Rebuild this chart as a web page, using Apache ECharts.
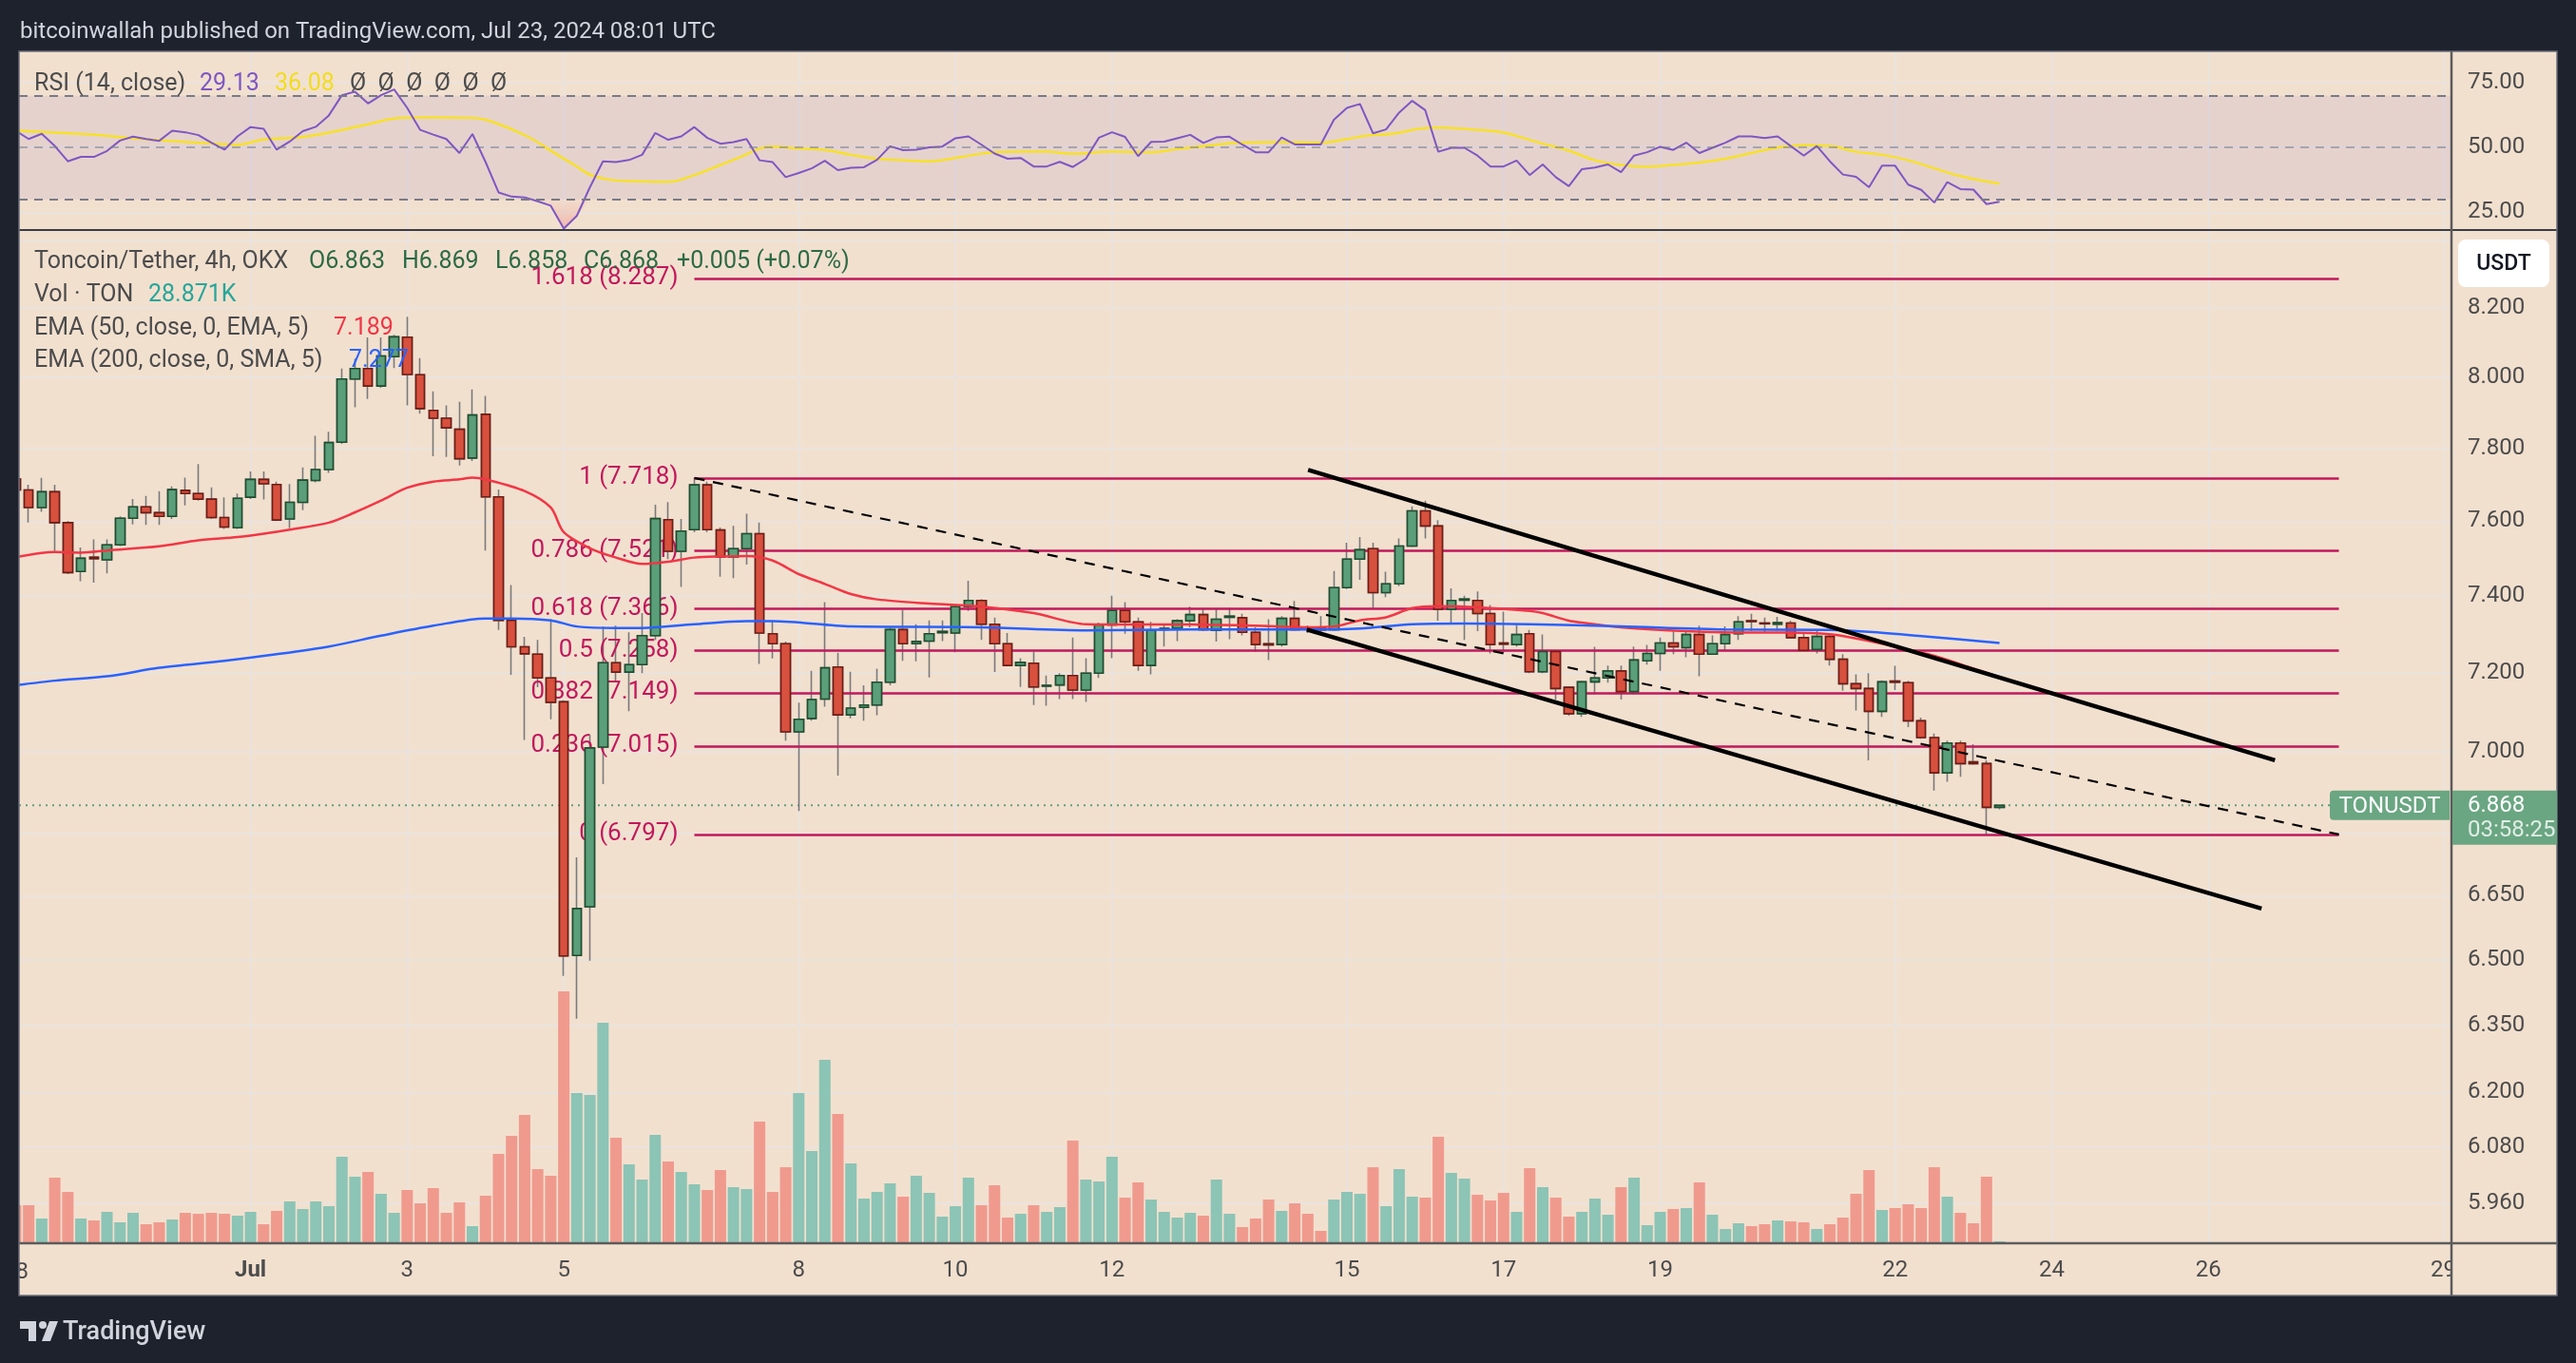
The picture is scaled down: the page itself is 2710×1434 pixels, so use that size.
<!DOCTYPE html>
<html><head><meta charset="utf-8">
<script src="https://cdn.jsdelivr.net/npm/echarts@6/dist/echarts.min.js"></script>
<style>html,body{margin:0;padding:0;background:#1e222d;}#c{width:2710px;height:1434px;}</style>
</head><body><div id="c"></div>
<script>
// ---- time base: hours relative to 2024-07-01 00:00 UTC, 4h candles ----
const START_HOUR = -72;   // first candle Jun 28 00:00
const STEP = 4;

const opens = [7.715,7.685,7.637,7.680,7.596,7.465,7.503,7.496,7.536,7.608,
 7.639,7.623,7.613,7.684,7.675,7.660,7.610,7.582,7.665,7.714,
 7.700,7.606,7.651,7.711,7.741,7.817,7.995,8.025,7.975,8.059,
 8.115,8.007,7.906,7.884,7.853,7.773,7.895,7.666,7.336,7.267,
 7.248,7.187,7.126,6.510,6.624,7.012,7.226,7.202,7.221,7.296,
 7.604,7.519,7.577,7.699,7.576,7.504,7.526,7.566,7.301,7.275,
 7.050,7.084,7.133,7.215,7.093,7.112,7.118,7.176,7.312,7.275,
 7.282,7.304,7.303,7.372,7.388,7.326,7.275,7.219,7.225,7.166,
 7.169,7.193,7.156,7.199,7.324,7.362,7.332,7.219,7.312,7.315,
 7.335,7.351,7.310,7.344,7.343,7.305,7.275,7.273,7.341,7.317,
 7.315,7.312,7.422,7.498,7.526,7.409,7.432,7.533,7.628,7.587,
 7.365,7.389,7.388,7.354,7.277,7.273,7.301,7.203,7.255,7.163,
 7.096,7.177,7.187,7.205,7.152,7.231,7.250,7.277,7.265,7.299,
 7.248,7.275,7.301,7.335,7.329,7.326,7.329,7.291,7.260,7.294,
 7.235,7.172,7.160,7.102,7.179,7.175,7.078,7.036,6.948,7.022,
 6.975,6.971,6.863];
const highs = [7.740,7.699,7.718,7.699,7.600,7.529,7.551,7.551,7.613,7.660,
 7.669,7.682,7.695,7.719,7.756,7.692,7.665,7.675,7.736,7.736,
 7.708,7.701,7.747,7.835,7.846,8.025,8.053,8.114,8.114,8.122,
 8.174,8.055,7.960,7.920,7.930,7.965,7.947,7.686,7.429,7.293,
 7.285,7.339,7.130,6.742,7.044,7.320,7.322,7.305,7.355,7.645,
 7.652,7.606,7.718,7.708,7.583,7.587,7.620,7.596,7.336,7.281,
 7.124,7.205,7.384,7.252,7.203,7.168,7.211,7.320,7.363,7.326,
 7.336,7.336,7.376,7.440,7.391,7.343,7.303,7.238,7.255,7.193,
 7.199,7.291,7.238,7.330,7.401,7.384,7.343,7.332,7.328,7.339,
 7.372,7.368,7.368,7.369,7.353,7.318,7.339,7.347,7.387,7.323,
 7.347,7.466,7.542,7.557,7.542,7.464,7.553,7.640,7.656,7.603,
 7.420,7.401,7.412,7.376,7.359,7.328,7.311,7.299,7.258,7.164,
 7.180,7.267,7.219,7.219,7.268,7.272,7.291,7.308,7.310,7.322,
 7.297,7.320,7.347,7.353,7.343,7.345,7.335,7.301,7.308,7.299,
 7.248,7.196,7.199,7.181,7.218,7.180,7.086,7.046,7.028,7.028,
 7.019,6.979,6.869];
const lows = [7.650,7.596,7.625,7.519,7.458,7.439,7.435,7.460,7.533,7.591,
 7.590,7.590,7.606,7.643,7.656,7.606,7.579,7.579,7.660,7.659,
 7.600,7.581,7.630,7.706,7.732,7.812,7.915,7.938,7.970,8.026,
 7.920,7.897,7.778,7.776,7.752,7.765,7.521,7.311,7.195,7.030,
 7.163,7.082,6.463,6.365,6.498,6.920,7.179,7.102,7.199,7.285,
 7.498,7.424,7.570,7.570,7.451,7.447,7.483,7.223,7.237,7.028,
 6.854,7.078,7.114,6.941,7.084,7.078,7.092,7.168,7.231,7.230,
 7.188,7.282,7.253,7.361,7.285,7.202,7.217,7.164,7.118,7.116,
 7.133,7.133,7.126,7.187,7.238,7.301,7.205,7.196,7.268,7.282,
 7.318,7.308,7.281,7.287,7.297,7.254,7.233,7.268,7.309,7.303,
 7.303,7.309,7.418,7.443,7.368,7.397,7.426,7.530,7.553,7.335,
 7.326,7.285,7.308,7.250,7.252,7.268,7.199,7.199,7.132,7.091,
 7.088,7.146,7.175,7.132,7.145,7.221,7.205,7.248,7.240,7.191,
 7.246,7.258,7.285,7.308,7.303,7.310,7.289,7.256,7.250,7.219,
 7.154,7.104,6.979,7.088,7.156,7.062,7.033,6.904,6.926,6.938,
 6.968,6.797,6.858];
const closes = [7.685,7.637,7.680,7.596,7.462,7.500,7.499,7.536,7.608,7.639,
 7.623,7.613,7.686,7.675,7.660,7.610,7.584,7.662,7.714,7.702,
 7.603,7.651,7.712,7.741,7.816,7.995,8.025,7.975,8.061,8.116,
 8.008,7.911,7.884,7.857,7.771,7.893,7.666,7.336,7.267,7.249,
 7.187,7.125,6.509,6.620,7.010,7.226,7.202,7.221,7.296,7.607,
 7.519,7.573,7.699,7.577,7.504,7.526,7.566,7.303,7.275,7.050,
 7.082,7.132,7.213,7.093,7.110,7.118,7.176,7.312,7.275,7.281,
 7.301,7.307,7.372,7.388,7.326,7.275,7.219,7.227,7.164,7.168,
 7.193,7.156,7.199,7.324,7.362,7.332,7.219,7.310,7.315,7.335,
 7.351,7.312,7.339,7.347,7.305,7.273,7.272,7.341,7.312,7.314,
 7.311,7.422,7.498,7.523,7.409,7.432,7.533,7.628,7.587,7.365,
 7.388,7.392,7.354,7.273,7.274,7.299,7.203,7.255,7.160,7.096,
 7.177,7.187,7.205,7.152,7.233,7.250,7.277,7.267,7.299,7.248,
 7.275,7.299,7.332,7.333,7.327,7.330,7.291,7.258,7.294,7.235,
 7.172,7.160,7.102,7.177,7.176,7.078,7.036,6.948,7.022,6.971,
 6.971,6.863,6.868];
// volume, thousands of TON
const volumes = [560,560,364,966,756,364,336,462,308,448,
 280,308,350,448,434,448,434,406,462,280,
 476,616,504,616,546,1274,980,1050,728,448,
 784,588,812,448,602,252,700,1316,1582,1890,
 1092,994,3710,2212,2184,3248,1554,1162,938,1596,
 1204,1050,868,784,1078,826,798,1792,756,1120,
 2212,1358,2702,1904,1176,658,756,882,686,994,
 742,392,546,966,560,854,378,434,560,462,
 532,1512,938,910,1274,672,896,644,462,378,
 448,406,938,434,238,364,644,476,588,434,
 182,644,756,728,1120,546,1092,686,672,1568,
 1036,952,714,630,742,462,1106,826,672,392,
 462,658,420,826,966,266,462,504,518,896,
 420,210,294,252,280,336,322,308,210,280,
 378,728,1078,490,518,574,518,1120,686,448,
 294,980,28.871];
const rsi = [56.5,53.3,55.3,50.6,44.7,46.4,46.4,48.7,52.7,54.2,
 53.3,52.6,56.5,55.9,54.8,51.9,49.2,54.3,57.9,57.2,
 49.2,52.3,56.3,58.0,62.4,70.2,71.5,67.0,70.2,72.4,
 65.3,56.8,55.0,53.3,47.9,55.2,44.5,32.7,31.1,30.8,
 29.3,27.6,18.8,23.7,34.7,44.7,44.4,45.2,47.2,55.6,
 53.0,54.3,57.9,53.7,51.5,52.1,53.3,45.1,44.4,38.6,
 40.2,42.0,44.9,41.3,42.2,42.4,45.3,50.5,49.0,49.2,
 50.1,50.4,53.6,54.3,51.1,47.7,45.7,46.0,42.7,42.7,
 44.5,42.5,45.7,53.8,55.9,54.1,46.7,52.2,52.3,53.6,
 54.9,51.8,53.9,54.2,51.1,48.2,48.2,53.9,51.2,51.2,
 51.2,60.7,65.3,66.8,55.5,57.0,63.5,68.0,64.4,48.4,
 49.9,49.9,46.9,42.7,42.7,45.0,39.4,43.5,38.6,35.1,
 41.7,42.3,43.5,40.5,46.9,48.2,50.3,49.1,51.9,47.9,
 49.9,51.9,54.3,54.3,53.7,54.3,50.6,46.9,50.6,44.7,
 39.6,38.7,34.7,43.0,43.0,35.7,33.7,28.8,36.7,34.0,
 33.8,28.2,29.13];
// RSI-based MA (read at candle index positions)
const rsiMaIdx = [0,3,6,9,12,15,17,19,22,25,27,29.5,31.5,35,36.6,39.2,41.2,42.8,44.3,46.8,50,52,54,55.5,57,58,60,62,64,66,68,70,72.4,74.4,77.5,79,81,84,87,89,92,94,97,100,102,103.5,105.5,107.5,109,111.5,114,115.5,117,119,121,123,125,127,129,131,133,135,137,139,141,143,145,147,149,152];
const rsiMaVal = [56.5,55.8,54.9,53.6,52.5,51.6,51.1,53.1,54.1,56.8,59.0,61.4,61.6,61.4,59.8,54.3,48.2,43.3,39.0,37.1,36.8,39.4,43.3,46.3,49.6,50.4,49.6,49.1,47.2,45.7,45.1,44.7,46.3,47.9,48.4,48.4,47.6,48.4,48.2,49.4,51.1,51.9,52.1,51.9,53.3,54.6,55.3,57.2,57.7,57.0,55.8,53.7,51.5,48.8,45.1,43.3,42.6,43.3,44.2,45.7,47.9,50.0,50.9,50.6,48.4,47.2,45.1,42.0,39.0,36.08];
// EMA lines (hour, price)
const ema50Hours = [-72,-60,-52,-44,-28,-16,-4,4,12,24,32,40,48,56,64,68,72,84,92,96,104,112,120,128,136,144,152,160,168,176,184,192,208,224,240,256,272,288,308,324,332,340,348,356,364,372,392,396,404,408,420,440,460,472,484,492,504,516,528,536];
const ema50Vals = [7.503,7.517,7.515,7.521,7.532,7.548,7.557,7.566,7.577,7.596,7.624,7.656,7.691,7.708,7.714,7.719,7.714,7.682,7.637,7.570,7.527,7.502,7.485,7.491,7.502,7.505,7.506,7.494,7.458,7.432,7.405,7.391,7.380,7.372,7.355,7.326,7.325,7.325,7.322,7.318,7.320,7.336,7.344,7.368,7.373,7.372,7.361,7.355,7.335,7.330,7.318,7.308,7.304,7.304,7.300,7.289,7.268,7.244,7.211,7.189];
const ema200Hours = [-72,-60,-44,-28,-8,8,24,40,56,72,80,92,100,112,120,136,152,160,184,224,256,288,324,340,356,372,392,420,452,484,496,512,536];
const ema200Vals = [7.168,7.180,7.191,7.213,7.231,7.248,7.268,7.296,7.322,7.341,7.341,7.336,7.320,7.316,7.316,7.326,7.334,7.334,7.320,7.318,7.310,7.312,7.312,7.315,7.326,7.328,7.326,7.320,7.312,7.311,7.306,7.295,7.277];

// axes ticks
const xTickHours = [0,48,96,168,216,264,336,384,432,504,552,600,672];
const xTickLabels = ['Jul','3','5','8','10','12','15','17','19','22','24','26','29'];
const firstTickHour = -72, firstTickLabel = '28';   // partly hidden at the left edge
const priceGrid = [5.96,6.08,6.2,6.35,6.5,6.65,6.8,7.0,7.2,7.4,7.6,7.8,8.0,8.2,8.4];
const priceLabels = [5.96,6.08,6.2,6.35,6.5,6.65,7.0,7.2,7.4,7.6,7.8,8.0,8.2];
const rsiTicks = [25,50,75];

// drawings
const fibRatios = ['1.618','1','0.786','0.618','0.5','0.382','0.236','0'];
const fibPrices = [8.287,7.718,7.521,7.366,7.258,7.149,7.015,6.797];
const fibStartHour = 136, fibEndHour = 640;
const fibTrendHours = [136,640], fibTrendPrices = [7.718,6.797];
const chanUpHours = [324.1,620.4], chanUpPrices = [7.740,6.979];
const chanLoHours = [323.7,616.3], chanLoPrices = [7.312,6.620];
const lastPrice = 6.868;

// ---------------------------------------------------------------
const L = Math.log;
const hourOf = i => START_HOUR + STEP * i;
const X_MIN = -70.96, X_MAX = 674.5;
const FONT = 'Roboto, "Noto Sans", sans-serif';
const TXT = '#4c4c4c';
const GRIDC = '#e9e3de';

const wickData = opens.map((o, i) => [hourOf(i), L(o), L(closes[i]), L(lows[i]), L(highs[i])]);
const bodyData = opens.map((o, i) => [hourOf(i), L(o), L(closes[i]), L(Math.min(o, closes[i])), L(Math.max(o, closes[i]))]);
const volData = volumes.map((v, i) => ({
  value: [hourOf(i), v],
  itemStyle: { color: closes[i] >= opens[i] ? '#8cc4b5' : '#f09a8e' }
}));

const xBase = (gi, showLabel) => ({
  type: 'value', gridIndex: gi, min: X_MIN, max: X_MAX,
  axisLine: { show: false },
  axisTick: { show: false, customValues: xTickHours },
  splitLine: { show: gi !== 2, lineStyle: { color: GRIDC, width: 2 } },
  axisLabel: showLabel ? {
    show: true, customValues: xTickHours, margin: 17,
    color: TXT, fontSize: 24, fontFamily: FONT,
    formatter: v => {
      const k = xTickHours.indexOf(Math.round(v));
      const t = k >= 0 ? xTickLabels[k] : '';
      return t === 'Jul' ? '{b|Jul}' : t;
    },
    rich: { b: { fontWeight: 'bold', fontSize: 24, color: TXT, fontFamily: FONT } }
  } : { show: false }
});

const option = {
  animation: false,
  backgroundColor: '#f2e0cf',
  grid: [
    { left: 20, right: 131, top: 55, height: 187 },
    { left: 20, right: 131, top: 243, height: 1065 },
    { left: 20, right: 131, top: 1008, height: 300 }
  ],
  xAxis: [xBase(0, false), xBase(1, true), xBase(2, false)],
  yAxis: [
    { type: 'value', gridIndex: 0, position: 'right', min: 18.22, max: 86.72,
      axisLine: { show: false }, axisTick: { show: false, customValues: rsiTicks },
      splitLine: { show: true, lineStyle: { color: GRIDC, width: 2 } },
      axisLabel: { customValues: rsiTicks, margin: 17, color: TXT, fontSize: 24, fontFamily: FONT,
        padding: [6, 0, 0, 0], formatter: v => v.toFixed(2) } },
    { type: 'value', gridIndex: 1, position: 'right', min: L(5.87556), max: L(8.4281),
      axisLine: { show: false }, axisTick: { show: false, customValues: priceGrid.map(L) },
      splitLine: { show: true, lineStyle: { color: GRIDC, width: 2 } },
      axisLabel: { customValues: priceLabels.map(L), margin: 17, color: TXT, fontSize: 24, fontFamily: FONT,
        padding: [5, 0, 0, 0], formatter: v => Math.exp(v).toFixed(3) } },
    { type: 'value', gridIndex: 2, min: 0, max: 4200, show: false }
  ],
  series: [
    // volume
    { name: 'Vol', type: 'bar', xAxisIndex: 2, yAxisIndex: 2, data: volData, barWidth: 12, z: 1 },
    // fib levels
    { name: 'fib', type: 'line', xAxisIndex: 1, yAxisIndex: 1, z: 2,
      data: [[fibStartHour, L(fibPrices[1])]], showSymbol: false, lineStyle: { opacity: 0 },
      markLine: {
        silent: true, symbol: 'none', animation: false,
        data: fibPrices.map((p, k) => [
          { coord: [fibStartHour, L(p)],
            lineStyle: { color: '#c2185b', width: 2.5, type: 'solid' },
            label: { show: true, position: 'start', distance: 17, color: '#c2185b',
              fontSize: 26, fontFamily: FONT, padding: [4, 0, 0, 0],
              formatter: fibRatios[k] + ' (' + p.toFixed(3) + ')' } },
          { coord: [fibEndHour, L(p)] }
        ])
      } },
    // current price dotted line
    { name: 'last', type: 'line', xAxisIndex: 1, yAxisIndex: 1, z: 2, showSymbol: false,
      data: [[X_MIN, L(lastPrice)], [X_MAX, L(lastPrice)]],
      lineStyle: { color: '#5f9e7b', width: 2, type: [2, 5] } },
    // candles: wicks then bodies
    { name: 'wick', type: 'candlestick', xAxisIndex: 1, yAxisIndex: 1, z: 4,
      data: wickData, encode: { x: 0, y: [1, 2, 3, 4] }, barWidth: 10,
      itemStyle: { color: '#7a7a7a', color0: '#7a7a7a', borderColor: '#7a7a7a', borderColor0: '#7a7a7a', borderWidth: 1.6 } },
    { name: 'body', type: 'candlestick', xAxisIndex: 1, yAxisIndex: 1, z: 5,
      data: bodyData, encode: { x: 0, y: [1, 2, 3, 4] }, barWidth: 10,
      itemStyle: { color: '#5b9f7a', color0: '#d8503e', borderColor: '#1f4e2f', borderColor0: '#6d1d14', borderWidth: 1.6 } },
    // EMAs
    { name: 'EMA50', type: 'line', xAxisIndex: 1, yAxisIndex: 1, z: 6, smooth: 0.3, showSymbol: false,
      data: ema50Hours.map((h, k) => [h, L(ema50Vals[k])]),
      lineStyle: { color: '#f23645', width: 2.5 } },
    { name: 'EMA200', type: 'line', xAxisIndex: 1, yAxisIndex: 1, z: 6, smooth: 0.3, showSymbol: false,
      data: ema200Hours.map((h, k) => [h, L(ema200Vals[k])]),
      lineStyle: { color: '#2962ff', width: 2.5 } },
    // drawings
    { name: 'fibTrend', type: 'line', xAxisIndex: 1, yAxisIndex: 1, z: 7, showSymbol: false,
      data: fibTrendHours.map((h, k) => [h, L(fibTrendPrices[k])]),
      lineStyle: { color: '#000', width: 2.2, type: [11, 9] } },
    { name: 'chanUp', type: 'line', xAxisIndex: 1, yAxisIndex: 1, z: 7, showSymbol: false,
      data: chanUpHours.map((h, k) => [h, L(chanUpPrices[k])]),
      lineStyle: { color: '#000', width: 4.5 } },
    { name: 'chanLo', type: 'line', xAxisIndex: 1, yAxisIndex: 1, z: 7, showSymbol: false,
      data: chanLoHours.map((h, k) => [h, L(chanLoPrices[k])]),
      lineStyle: { color: '#000', width: 4.5 } },
    // RSI pane
    { name: 'rsiLow', type: 'line', xAxisIndex: 0, yAxisIndex: 0, z: 2, showSymbol: false,
      data: rsi.map((v, i) => [hourOf(i), Math.min(v, 30)]),
      lineStyle: { width: 0, opacity: 0 },
      areaStyle: { origin: 30, color: new echarts.graphic.LinearGradient(0, 0, 0, 1, [
        { offset: 0, color: 'rgba(242,120,110,0.05)' }, { offset: 1, color: 'rgba(242,120,110,0.55)' }]) } },
    { name: 'RSI', type: 'line', xAxisIndex: 0, yAxisIndex: 0, z: 4, showSymbol: false,
      data: rsi.map((v, i) => [hourOf(i), v]),
      lineStyle: { color: '#7e57c2', width: 2 },
      markArea: { silent: true, itemStyle: { color: 'rgba(126,87,194,0.1)' }, data: [[{ yAxis: 70 }, { yAxis: 30 }]] },
      markLine: { silent: true, symbol: 'none', label: { show: false },
        data: [
          { yAxis: 70, lineStyle: { color: '#787b86', width: 2, type: [9, 7] } },
          { yAxis: 50, lineStyle: { color: 'rgba(120,123,134,0.55)', width: 2, type: [9, 7] } },
          { yAxis: 30, lineStyle: { color: '#787b86', width: 2, type: [9, 7] } }
        ] } },
    { name: 'RSI MA', type: 'line', xAxisIndex: 0, yAxisIndex: 0, z: 3, smooth: 0.4, showSymbol: false,
      data: rsiMaIdx.map((ix, k) => [START_HOUR + STEP * ix, rsiMaVal[k]]),
      lineStyle: { color: '#f7e12a', width: 2.5 } }
  ]
};

const chart = echarts.init(document.getElementById('c'), null, { renderer: 'canvas', width: 2710, height: 1434 });
chart.setOption(option);

const py = chart.convertToPixel({ yAxisIndex: 1 }, L(lastPrice));
const px28 = chart.convertToPixel({ xAxisIndex: 1 }, firstTickHour);
const DARK = '#1e222d';
const DY = 3; // text baseline nudge
const t = (text, x, y, fill, size, extra) => ({
  type: 'text', z: (extra && extra.z) || 100, silent: true,
  style: { text: text, x: x, y: y + DY, fill: fill, font: (extra && extra.weight ? extra.weight + ' ' : '') + size + 'px ' + FONT,
    textAlign: (extra && extra.align) || 'left', textVerticalAlign: 'middle' }
});
const graphics = [
  // partly hidden first date label (covered by the frame on the left)
  t(firstTickLabel, px28, 1336, TXT, 24, { align: 'center', z: 80 }),
  // dark frame around the panel
  { type: 'rect', z: 90, silent: true, shape: { x: 0, y: 0, width: 2710, height: 54 }, style: { fill: DARK } },
  { type: 'rect', z: 90, silent: true, shape: { x: 0, y: 1363, width: 2710, height: 71 }, style: { fill: DARK } },
  { type: 'rect', z: 90, silent: true, shape: { x: 0, y: 0, width: 20, height: 1434 }, style: { fill: DARK } },
  { type: 'rect', z: 90, silent: true, shape: { x: 2690, y: 0, width: 20, height: 1434 }, style: { fill: DARK } },
  // price-scale corner (clips the last date label)
  { type: 'rect', z: 92, silent: true, shape: { x: 2580, y: 1309, width: 110, height: 54 }, style: { fill: '#f2e0cf' } },
  // separators
  { type: 'line', z: 95, silent: true, shape: { x1: 20, y1: 242, x2: 2690, y2: 242 }, style: { stroke: '#3a3d46', lineWidth: 2 } },
  { type: 'line', z: 95, silent: true, shape: { x1: 20, y1: 1308, x2: 2690, y2: 1308 }, style: { stroke: '#5b5b5b', lineWidth: 2.5 } },
  { type: 'line', z: 95, silent: true, shape: { x1: 2579, y1: 54, x2: 2579, y2: 1363 }, style: { stroke: '#5b5b5b', lineWidth: 2.5 } },
  { type: 'rect', z: 95, silent: true, shape: { x: 20, y: 54, width: 2670, height: 1309 }, style: { fill: 'none', stroke: '#6b6e78', lineWidth: 1.5 } },
  // header / footer
  t('bitcoinwallah published on TradingView.com, Jul 23, 2024 08:01 UTC', 21, 31, '#d1d4dc', 24),
  { type: 'rect', z: 100, silent: true, shape: { x: 21, y: 1390, width: 17, height: 8 }, style: { fill: '#d1d4dc' } },
  { type: 'rect', z: 100, silent: true, shape: { x: 30, y: 1390, width: 8, height: 21 }, style: { fill: '#d1d4dc' } },
  { type: 'circle', z: 100, silent: true, shape: { cx: 45, cy: 1394, r: 4 }, style: { fill: '#d1d4dc' } },
  { type: 'polygon', z: 100, silent: true, shape: { points: [[52, 1390], [61, 1390], [53, 1411], [44, 1411]] }, style: { fill: '#d1d4dc' } },
  t('TradingView', 66, 1399, '#d1d4dc', 27, { weight: 500 }),
  // RSI legend
  t('RSI (14, close)', 36, 86, TXT, 25),
  t('29.13', 210, 86, '#7e57c2', 25),
  t('36.08', 289, 86, '#f2dc1f', 25),
  t('\u00D8  \u00D8  \u00D8  \u00D8  \u00D8  \u00D8', 368, 86, TXT, 25),
  // price legend
  t('Toncoin/Tether, 4h, OKX', 36, 273, TXT, 25),
  t('O6.863', 325, 273, '#2c6a44', 25),
  t('H6.869', 423, 273, '#2c6a44', 25),
  t('L6.858', 521, 273, '#2c6a44', 25),
  t('C6.868', 614, 273, '#2c6a44', 25),
  t('+0.005 (+0.07%)', 712, 273, '#2c6a44', 25),
  t('Vol \u00B7 TON', 36, 308, TXT, 25),
  t('28.871K', 156, 308, '#26a69a', 25),
  t('EMA (50, close, 0, EMA, 5)', 36, 343, TXT, 25),
  t('7.189', 351, 343, '#f23645', 25),
  t('EMA (200, close, 0, SMA, 5)', 36, 377, TXT, 25),
  t('7.277', 367, 377, '#2962ff', 25),
  // axis currency box
  { type: 'rect', z: 100, silent: true, shape: { x: 2586, y: 252, width: 96, height: 50, r: 8 }, style: { fill: '#ffffff' } },
  t('USDT', 2634, 275, '#131722', 23, { align: 'center', weight: 500 }),
  // last price labels
  { type: 'rect', z: 100, silent: true, shape: { x: 2451, y: py - 15.5, width: 126, height: 31, r: [4, 0, 0, 4] }, style: { fill: '#6aa682' } },
  t('TONUSDT', 2514, py - 1.5, '#ffffff', 24, { align: 'center' }),
  { type: 'rect', z: 100, silent: true, shape: { x: 2580, y: py - 15.5, width: 110, height: 57 }, style: { fill: '#6aa682' } },
  t('6.868', 2596, py - 2, '#ffffff', 24),
  t('03:58:25', 2596, py + 24, 'rgba(255,255,255,0.8)', 24)
];
chart.setOption({ graphic: { elements: graphics } });
</script>
</body></html>
